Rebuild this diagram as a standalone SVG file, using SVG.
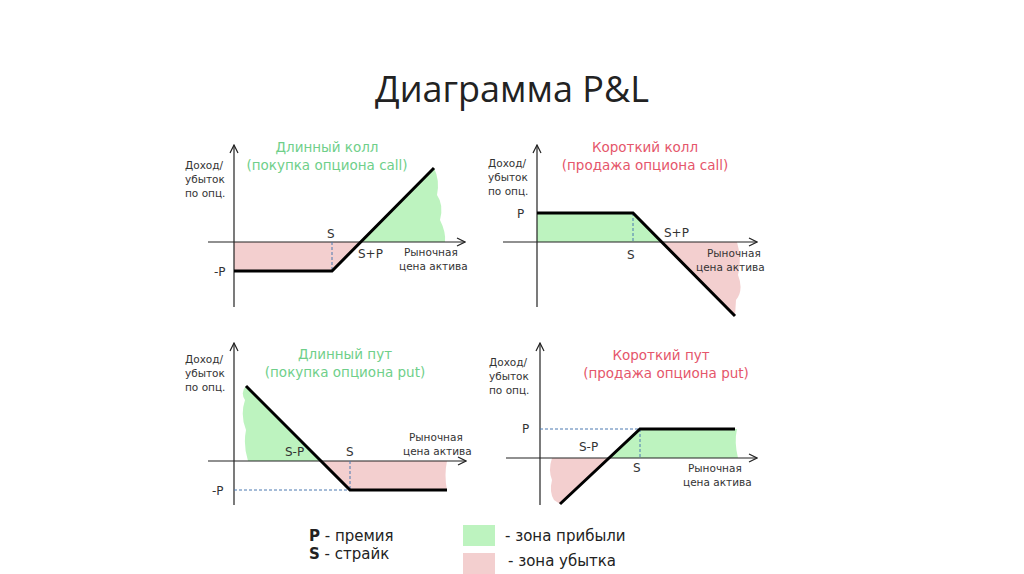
<svg xmlns="http://www.w3.org/2000/svg" width="1024" height="574" viewBox="0 0 1024 574">
<defs>
<marker id="ar" markerWidth="10" markerHeight="10" refX="9" refY="5" orient="auto" markerUnits="userSpaceOnUse"><path d="M1,1 L9,5 L1,9" fill="none" stroke="#222" stroke-width="1.2"/></marker>
<style>
.ax{stroke:#222;stroke-width:1.2;fill:none}
.pl{stroke:#000;stroke-width:3;fill:none}
.ds{stroke:#4a78b0;stroke-width:1;stroke-dasharray:3,2;fill:none}
.g{fill:#bdf3bf}
.r{fill:#f3cfcf}
text{font-family:"DejaVu Sans",Verdana,sans-serif;fill:#333}
.s{font-size:10.5px}
.m{font-size:12px}
.tg{font-size:13.5px;fill:#6fcf8a;text-anchor:middle}
.tr{font-size:13.5px;fill:#e5566b;text-anchor:middle}
.lg{font-size:15px;fill:#222}
</style>
</defs>
<text x="512" y="102" text-anchor="middle" style="font-family:'Open Sans','Liberation Sans',sans-serif;font-size:36px;fill:#222">Диаграмма P&amp;L</text>

<g id="long-call">
<path class="r" d="M234,242 L360,242 L332,271 L234,271 Z"/>
<path class="g" d="M360,242 L434,168 Q440,180 437,195 Q444,205 440,220 Q446,232 445,242 Z"/>
<line class="ax" x1="234" y1="307" x2="234" y2="145" marker-end="url(#ar)"/>
<line class="ax" x1="208" y1="242" x2="465" y2="242" marker-end="url(#ar)"/>
<line class="ds" x1="332" y1="242" x2="332" y2="271"/>
<polyline class="pl" points="234,271 332,271 434,168"/>
<text class="tg" x="327" y="152">Длинный колл</text>
<text class="tg" x="327" y="170">(покупка опциона call)</text>
<text class="s" x="185" y="169">Доход/</text><text class="s" x="185" y="183">убыток</text><text class="s" x="185" y="197">по опц.</text>
<text class="m" x="327" y="238">S</text>
<text class="m" x="358" y="258">S+P</text>
<text class="s" x="404" y="256">Рыночная</text><text class="s" x="399" y="270">цена актива</text>
<text class="m" x="214" y="276">-P</text>
</g>

<g id="short-call">
<path class="g" d="M537,213 L633,213 L661,242 L537,242 Z"/>
<path class="r" d="M661,242 L735,316 L736,300 Q744,290 738,275 Q742,260 737,242 Z"/>
<line class="ax" x1="537" y1="307" x2="537" y2="145" marker-end="url(#ar)"/>
<line class="ax" x1="503" y1="242" x2="757" y2="242" marker-end="url(#ar)"/>
<line class="ds" x1="633" y1="213" x2="633" y2="242"/>
<polyline class="pl" points="537,213 633,213 735,316"/>
<text class="tr" x="645" y="152">Короткий колл</text>
<text class="tr" x="645" y="170">(продажа опциона call)</text>
<text class="s" x="488" y="167">Доход/</text><text class="s" x="488" y="181">убыток</text><text class="s" x="488" y="195">по опц.</text>
<text class="m" x="517" y="218">P</text>
<text class="m" x="627" y="259">S</text>
<text class="m" x="664" y="237">S+P</text>
<text class="s" x="707" y="257">Рыночная</text><text class="s" x="696" y="271">цена актива</text>
</g>

<g id="long-put">
<path class="g" d="M246,386 L321,461 L248,461 Q243,445 246,430 Q240,415 245,400 Q240,392 246,386 Z"/>
<path class="r" d="M321,461 L447,461 Q444,475 447,490 L350,490 Z"/>
<line class="ax" x1="234" y1="505" x2="234" y2="343" marker-end="url(#ar)"/>
<line class="ax" x1="208" y1="461" x2="466" y2="461" marker-end="url(#ar)"/>
<line class="ds" x1="234" y1="490" x2="350" y2="490"/>
<line class="ds" x1="350" y1="461" x2="350" y2="490"/>
<polyline class="pl" points="246,386 350,490 447,490"/>
<text class="tg" x="345" y="359">Длинный пут</text>
<text class="tg" x="345" y="377">(покупка опциона put)</text>
<text class="s" x="185" y="363">Доход/</text><text class="s" x="185" y="377">убыток</text><text class="s" x="185" y="391">по опц.</text>
<text class="m" x="285" y="456">S-P</text>
<text class="m" x="346" y="456">S</text>
<text class="s" x="409" y="441">Рыночная</text><text class="s" x="403" y="455">цена актива</text>
<text class="m" x="212" y="495">-P</text>
</g>

<g id="short-put">
<path class="g" d="M609,458 L640,429 L737,429 Q734,442 738,458 Z"/>
<path class="r" d="M609,458 L552,458 Q548,470 552,480 Q549,492 554,500 L560,504 Z"/>
<line class="ax" x1="540" y1="505" x2="540" y2="343" marker-end="url(#ar)"/>
<line class="ax" x1="506" y1="458" x2="757" y2="458" marker-end="url(#ar)"/>
<line class="ds" x1="540" y1="429" x2="640" y2="429"/>
<line class="ds" x1="640" y1="429" x2="640" y2="458"/>
<polyline class="pl" points="560,504 640,429 735,429"/>
<text class="tr" x="661" y="360">Короткий пут</text>
<text class="tr" x="666" y="378">(продажа опциона put)</text>
<text class="s" x="489" y="366">Доход/</text><text class="s" x="489" y="380">убыток</text><text class="s" x="489" y="394">по опц.</text>
<text class="m" x="522" y="433">P</text>
<text class="m" x="579" y="451">S-P</text>
<text class="m" x="633" y="472">S</text>
<text class="s" x="688" y="472">Рыночная</text><text class="s" x="683" y="486">цена актива</text>
</g>

<g id="legend">
<text class="lg" x="309" y="541"><tspan font-weight="bold">P</tspan> - премия</text>
<text class="lg" x="309" y="559"><tspan font-weight="bold">S</tspan> - страйк</text>
<rect class="g" x="463" y="525" width="32" height="21"/>
<rect class="r" x="463" y="553" width="32" height="21"/>
<text class="lg" x="505" y="541">- зона прибыли</text>
<text class="lg" x="508" y="566">- зона убытка</text>
</g>
</svg>
